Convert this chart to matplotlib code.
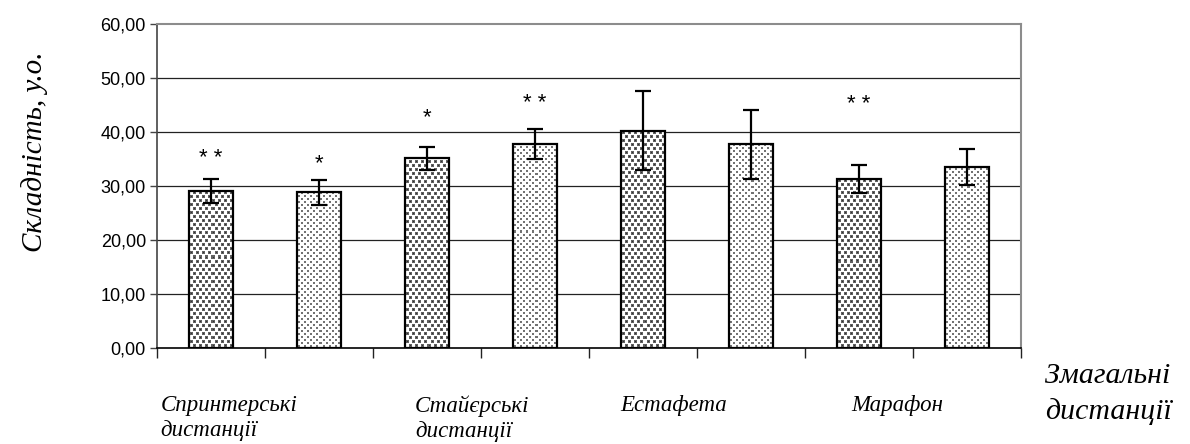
import numpy as np
import matplotlib.pyplot as plt

# Mean difficulty per distance group (two samples per group) and its spread
means = [29.1, 28.8, 35.1, 37.8, 40.2, 37.7, 31.3, 33.5]
errors = [2.2, 2.4, 2.2, 2.8, 7.3, 6.4, 2.6, 3.3]
sample = ['a', 'b', 'a', 'b', 'a', 'b', 'a', 'b']
marks = ['**', '*', '*', '**', '', '', '**', '']
mark_y = [35.0, 34.2, 42.6, 45.3, 0, 0, 45.0, 0]

groups = ['Спринтерські\nдистанції', 'Стайєрські\nдистанції', 'Естафета', 'Марафон']
group_x = [-0.47, 1.89, 3.79, 5.93]
yticks = [0, 10, 20, 30, 40, 50, 60]

W, H = 1190, 444
fig = plt.figure(figsize=(W / 100, H / 100), dpi=100)
ax = fig.add_axes([157 / W, 1 - 348 / H, 864 / W, 324 / H])

x = np.arange(len(means))
ax.set_xlim(-0.5, len(means) - 0.5)
ax.set_ylim(0, 60)

for y in yticks[1:-1]:
    ax.axhline(y, color='#222222', lw=0.9, zorder=1)

bars = ax.bar(x, means, width=0.41, facecolor='none', edgecolor='black',
              linewidth=1.6, zorder=3)


def texture(kind, h, w):
    # dot patterns for the two samples, one cell per screen pixel
    rr, cc = np.indices((h, w))
    img = np.ones((h, w))
    if kind == 'a':
        shift = 3 * ((rr // 4) % 2)
        on = (rr % 4 < 3) & ((cc + shift) % 6 < 3)
        core = on & (rr % 4 == 1) & ((cc + shift) % 6 == 1)
        img[on] = 0.38
        img[core] = 0.2
    else:
        on = ((rr % 6 < 2) & (cc % 6 < 2)) | (((rr + 3) % 6 < 2) & ((cc + 3) % 6 < 2))
        img[on] = 0.45
    return img


tex = {k: texture(k, 324, 864) for k in ('a', 'b')}
for bar, k in zip(bars, sample):
    im = ax.imshow(tex[k], cmap='gray', vmin=0, vmax=1, interpolation='nearest',
                   extent=(-0.5, len(means) - 0.5, 0, 60), aspect='auto', zorder=2.5)
    im.set_clip_path(bar)

ax.errorbar(x, means, yerr=errors, fmt='none', ecolor='black', elinewidth=1.6,
            capsize=6, capthick=1.6, zorder=4)

for xi, m, my in zip(x, marks, mark_y):
    if m:
        ax.text(xi, my, ' '.join(m), ha='center', va='center', fontsize=16,
                family='Liberation Sans', zorder=5)

ax.set_yticks(yticks)
ax.set_yticklabels([f'{v:.2f}'.replace('.', ',') for v in yticks],
                   family='Liberation Sans', fontsize=13)
ax.set_xticks(np.arange(-0.5, len(means)))
ax.set_xticklabels([])
ax.tick_params(axis='y', length=5, width=1, color='#444444', pad=3)
ax.tick_params(axis='x', length=7, width=1, color='#222222')

ax.spines['left'].set_color('#444444')
ax.spines['left'].set_linewidth(1.2)
ax.spines['bottom'].set_color('black')
ax.spines['bottom'].set_linewidth(1.2)
for s in ('top', 'right'):
    ax.spines[s].set_color('#8c8c8c')
    ax.spines[s].set_linewidth(1.5)

for gx, g in zip(group_x, groups):
    ax.text(gx, -0.145, g, transform=ax.get_xaxis_transform(), ha='left', va='top',
            fontsize=16.5, style='italic', family='Liberation Serif', linespacing=1.25)

fig.text(35 / W, 1 - 152 / H, 'Складність, у.о.', rotation=90, ha='center',
         va='center', fontsize=21, style='italic', family='Liberation Serif')
fig.text(1108 / W, 1 - 394 / H, 'Змагальні\nдистанції', ha='center', va='center',
         fontsize=21.5, style='italic', family='Liberation Serif', linespacing=1.4)

fig.savefig('out.png', dpi=100)
